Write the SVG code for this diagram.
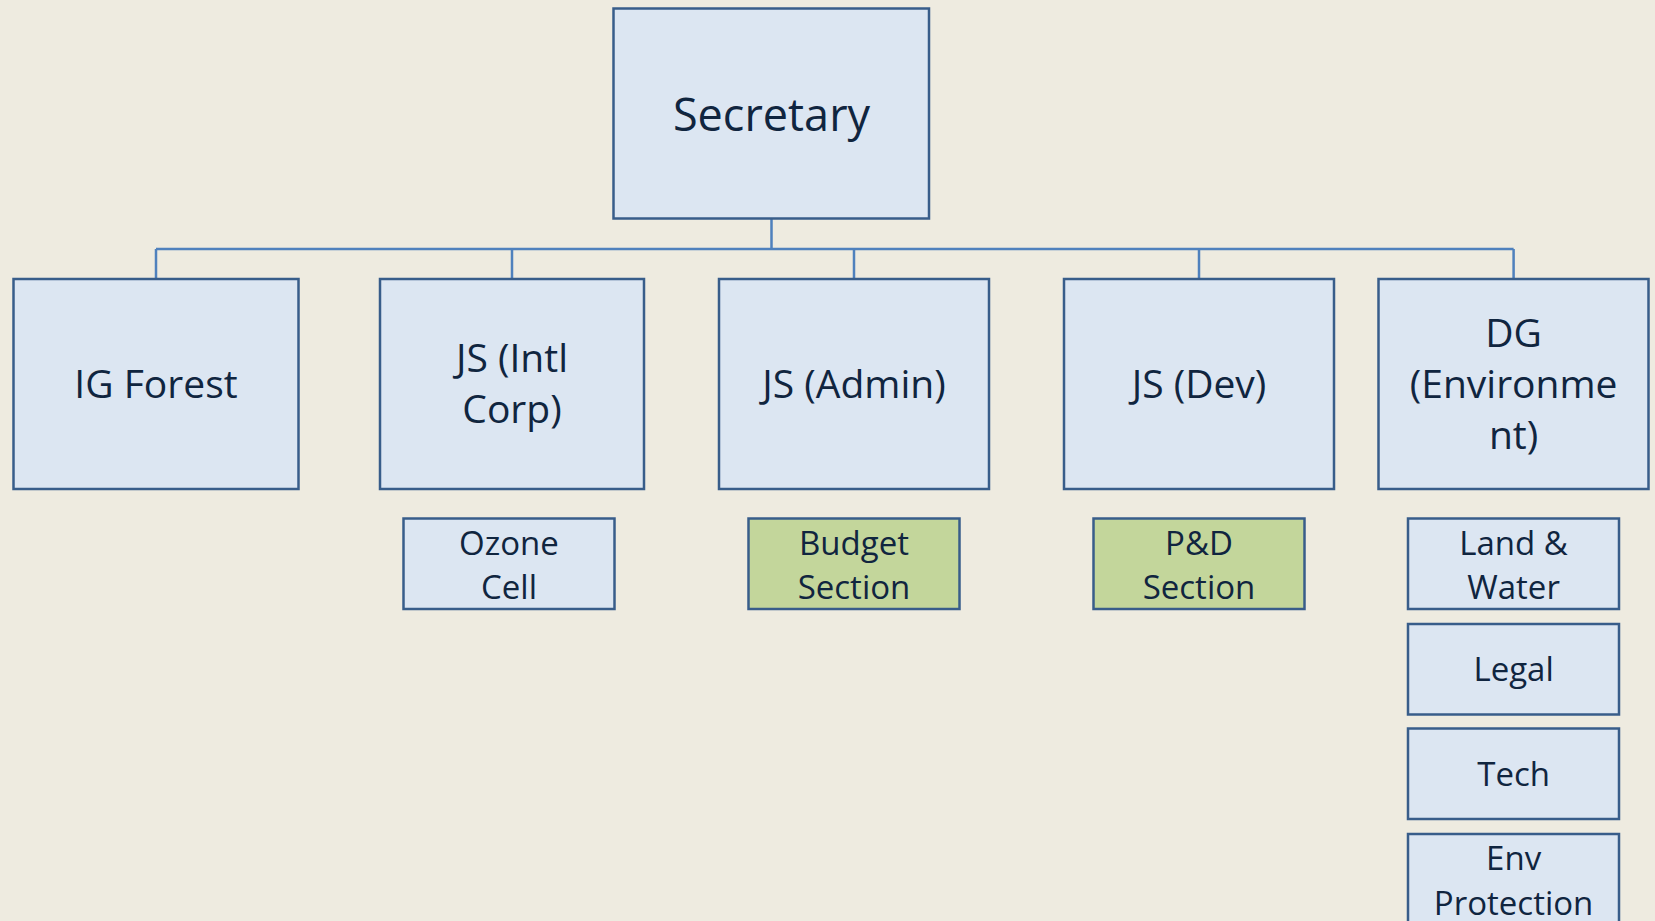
<svg xmlns="http://www.w3.org/2000/svg" width="1655" height="921" viewBox="0 0 1655 921">
<style>
.box{fill:#DCE6F2;stroke:#385D8A;stroke-width:2.5}
.green{fill:#C3D69B;stroke:#385D8A;stroke-width:2.5}
.conn{stroke:#4F81BD;stroke-width:2.5;fill:none}
text{font-family:"Open Sans","Liberation Sans",sans-serif;fill:#10253F;text-anchor:middle}
.t1{font-size:45px}
.t2{font-size:39px}
.t3{font-size:33px}
</style>
<rect x="0" y="0" width="1655" height="921" fill="#EEEBE0"/>
<g id="connectors">
<path class="conn" d="M771.5 218.5V249M156 249H1513.6M156 249V279M512 249V279M854 249V279M1199 249V279M1513.6 249V279"/>
</g>
<g id="secretary"><rect class="box" x="613.5" y="8.5" width="315.5" height="210"/><text class="t1" x="771.5" y="131">Secretary</text></g>
<g id="ig-forest"><rect class="box" x="13.5" y="279" width="285" height="210"/><text class="t2" x="156" y="397.5">IG Forest</text></g>
<g id="js-intl"><rect class="box" x="380" y="279" width="264" height="210"/><text class="t2" x="512" y="372">JS (Intl</text><text class="t2" x="512" y="423">Corp)</text></g>
<g id="js-admin"><rect class="box" x="719" y="279" width="270" height="210"/><text class="t2" x="854" y="397.5">JS (Admin)</text></g>
<g id="js-dev"><rect class="box" x="1064" y="279" width="270" height="210"/><text class="t2" x="1199" y="397.5">JS (Dev)</text></g>
<g id="dg-env"><rect class="box" x="1378.5" y="279" width="270" height="210"/><text class="t2" x="1513.6" y="346.5">DG</text><text class="t2" x="1513.6" y="397.5">(Environme</text><text class="t2" x="1513.6" y="448.5">nt)</text></g>
<g id="ozone"><rect class="box" x="403.5" y="518.5" width="211" height="90.5"/><text class="t3" x="509" y="555">Ozone</text><text class="t3" x="509" y="599">Cell</text></g>
<g id="budget"><rect class="green" x="748.5" y="518.5" width="211" height="90.5"/><text class="t3" x="854" y="555">Budget</text><text class="t3" x="854" y="599">Section</text></g>
<g id="pd"><rect class="green" x="1093.5" y="518.5" width="211" height="90.5"/><text class="t3" x="1199" y="555">P&amp;D</text><text class="t3" x="1199" y="599">Section</text></g>
<g id="land-water"><rect class="box" x="1408" y="518.5" width="211" height="90.5"/><text class="t3" x="1513.6" y="555">Land &amp;</text><text class="t3" x="1513.6" y="599">Water</text></g>
<g id="legal"><rect class="box" x="1408" y="624" width="211" height="90.5"/><text class="t3" x="1513.6" y="681">Legal</text></g>
<g id="tech"><rect class="box" x="1408" y="728.5" width="211" height="90.5"/><text class="t3" x="1513.6" y="786">Tech</text></g>
<g id="env-protection"><rect class="box" x="1408" y="834" width="211" height="92"/><text class="t3" x="1513.6" y="870">Env</text><text class="t3" x="1513.6" y="914.5">Protection</text></g>
</svg>
